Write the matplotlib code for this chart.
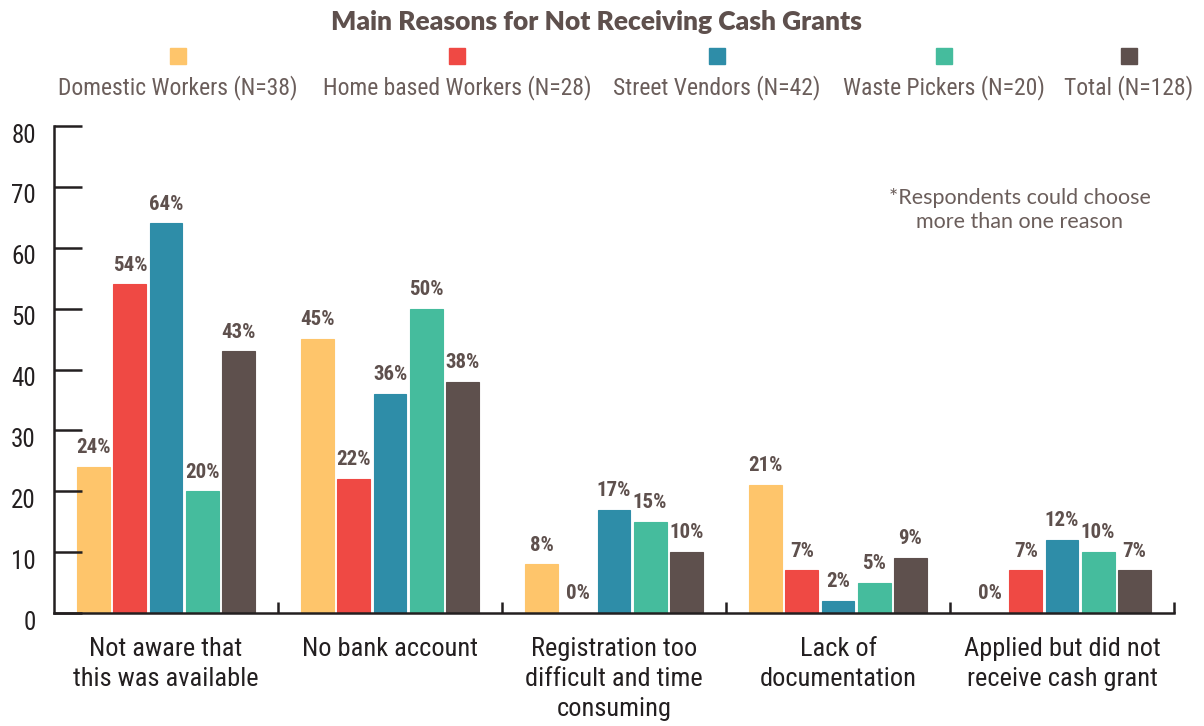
import numpy as np
import matplotlib
matplotlib.use("Agg")
import matplotlib.pyplot as plt
import matplotlib.transforms as mtransforms
from matplotlib.patches import Rectangle

# data
categories = [
    "Not aware that\nthis was available",
    "No bank account",
    "Registration too\ndifficult and time\nconsuming",
    "Lack of\ndocumentation",
    "Applied but did not\nreceive cash grant",
]
series_names = [
    "Domestic Workers (N=38)",
    "Home based Workers (N=28)",
    "Street Vendors (N=42)",
    "Waste Pickers (N=20)",
    "Total (N=128)",
]
domestic = [24, 45, 8, 21, 0]
home_based = [54, 22, 0, 7, 7]
street_vendors = [64, 36, 17, 2, 12]
waste_pickers = [20, 50, 15, 5, 10]
total = [43, 38, 10, 9, 7]

colors = ["#FEC56B", "#EF4944", "#2E8DA8", "#45BC9D", "#5E504D"]
TEXT_BROWN = "#5E504D"
LEGEND_GREY = "#6B5E5B"
AXIS_DARK = "#231F20"

COND = ["Roboto Condensed", "Roboto", "DejaVu Sans"]

fig = plt.figure(figsize=(12.04, 7.26), dpi=100)
ax = fig.add_axes([54 / 1204, (726 - 613) / 726, 1120 / 1204, (613 - 126) / 726])

all_series = [domestic, home_based, street_vendors, waste_pickers, total]
x = np.arange(len(categories))
bar_w = 0.147
step = 0.161

for i, (vals, col) in enumerate(zip(all_series, colors)):
    pos = x + (i - 2) * step
    bars = ax.bar(pos, vals, width=bar_w, color=col, edgecolor=col, linewidth=0.8)
    for b, v in zip(bars, vals):
        ax.annotate(f"{v}%", (b.get_x() + b.get_width() / 2, v),
                    xytext=(0, 7), textcoords="offset points",
                    ha="center", va="bottom", fontsize=15, fontweight="bold",
                    color=TEXT_BROWN, family=COND)

ax.set_xlim(-0.5, 4.5)
ax.set_ylim(0, 80)

for s in ["top", "right"]:
    ax.spines[s].set_visible(False)
for s in ["left", "bottom"]:
    ax.spines[s].set_linewidth(1.8)
    ax.spines[s].set_color(AXIS_DARK)

ax.set_yticks(range(0, 81, 10))
ax.tick_params(axis="y", direction="in", length=20, width=1.8, color=AXIS_DARK,
               labelsize=18, labelcolor=AXIS_DARK, pad=13)
for lab in ax.get_yticklabels():
    lab.set_family(COND)
    lab.set_transform(lab.get_transform() +
                      mtransforms.ScaledTranslation(0, -7 / 100, fig.dpi_scale_trans))

ax.set_xticks(x)
ax.set_xticklabels(categories, fontsize=19, color=AXIS_DARK, family=COND,
                   linespacing=1.32)
ax.tick_params(axis="x", length=0, pad=17)
ax.set_xticks(np.arange(0.5, 5.0, 1.0), minor=True)
ax.tick_params(axis="x", which="minor", direction="in", length=8, width=1.8,
               color=AXIS_DARK)

# title and custom legend (square above each label)
fig.text(596 / 1204, 1 - 22 / 726, "Main Reasons for Not Receiving Cash Grants",
         ha="center", va="center", fontsize=19, fontweight="heavy",
         color=TEXT_BROWN, family=["Lato", "DejaVu Sans"])

legend_x = [178, 457, 717, 944, 1129]
for name, col, lx in zip(series_names, colors, legend_x):
    fig.patches.append(Rectangle(((lx - 8) / 1204, 1 - 64 / 726), 16 / 1204, 16 / 726,
                                 transform=fig.transFigure, color=col))
    fig.text(lx / 1204, 1 - 88 / 726, name, ha="center", va="center",
             fontsize=17, color=LEGEND_GREY, family=COND)

ax.text(1020 / 1204, 1 - 210 / 726, "*Respondents could choose\nmore than one reason",
        transform=fig.transFigure, ha="center", va="center", fontsize=15.5,
        color=LEGEND_GREY, family=["Lato", "DejaVu Sans"], linespacing=1.3)

fig.savefig("out.png", dpi=100)
